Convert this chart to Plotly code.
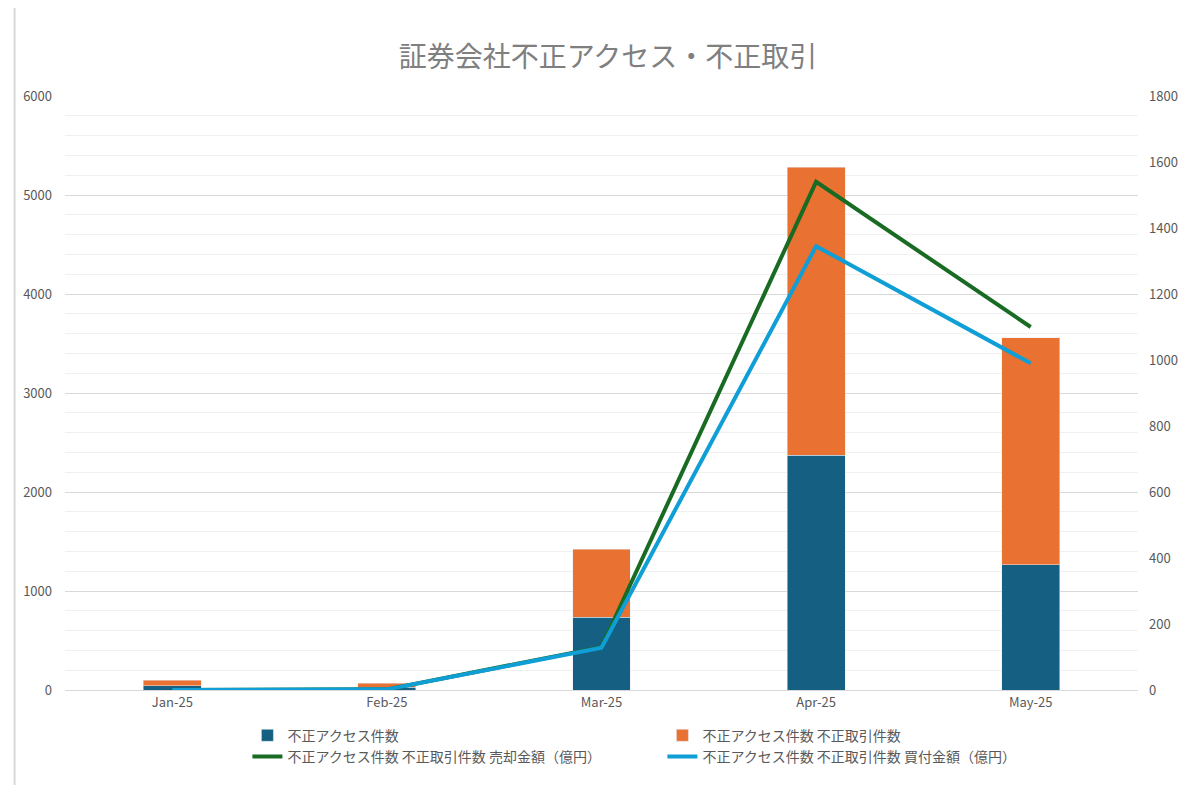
import plotly.graph_objects as go

months = ["Jan-25", "Feb-25", "Mar-25", "Apr-25", "May-25"]
access = [45, 30, 735, 2370, 1265]
trades = [55, 40, 685, 2910, 2295]
sell_amt = [0, 2, 130, 1540, 1100]
buy_amt = [0, 2, 128, 1345, 990]

names = ["不正アクセス件数", "不正アクセス件数 不正取引件数",
         "不正アクセス件数 不正取引件数 売却金額（億円）",
         "不正アクセス件数 不正取引件数 買付金額（億円）"]

fig = go.Figure()
fig.add_bar(x=months, y=access, name=names[0], marker_color="#156082", width=0.27)
fig.add_bar(x=months, y=trades, name=names[1], marker_color="#E97132", width=0.27)
fig.add_scatter(x=months, y=sell_amt, name=names[2], mode="lines",
                line=dict(color="#196B24", width=4), yaxis="y2")
fig.add_scatter(x=months, y=buy_amt, name=names[3], mode="lines",
                line=dict(color="#0F9ED5", width=4), yaxis="y2")

font = "Noto Sans CJK JP"
fig.update_layout(
    barmode="stack",
    width=1200, height=785,
    paper_bgcolor="white", plot_bgcolor="white",
    font=dict(family=font, size=13, color="#595959"),
    title=dict(text="証券会社不正アクセス・不正取引", x=0.5, y=0.95,
               font=dict(size=28, color="#7F7F7F")),
    margin=dict(l=57, r=70, t=88, b=103, autoexpand=False),
    xaxis=dict(showgrid=False, showline=True, linecolor="#D9D9D9",
               ticks="", tickfont=dict(size=13)),
    yaxis=dict(range=[0, 6000], dtick=1000, gridcolor="#D9D9D9",
               minor=dict(dtick=200, showgrid=True, gridcolor="#F0F0F0"),
               zeroline=False, tickfont=dict(size=13), ticklabelstandoff=12),
    yaxis2=dict(range=[0, 1800], dtick=200, overlaying="y", side="right",
                showgrid=False, zeroline=False, tickfont=dict(size=13),
                ticklabelstandoff=10),
    legend=dict(orientation="h", x=0.17, y=-0.05, xanchor="left", yanchor="top",
                entrywidth=370, font=dict(size=14, color="#595959"),
                traceorder="normal", tracegroupgap=20),
    shapes=[dict(type="rect", xref="paper", yref="paper", x0=-0.047, x1=1.06,
                 y0=-0.19, y1=1.15, line=dict(color="#D9D9D9", width=2))],
)

fig.write_html("out.html")
